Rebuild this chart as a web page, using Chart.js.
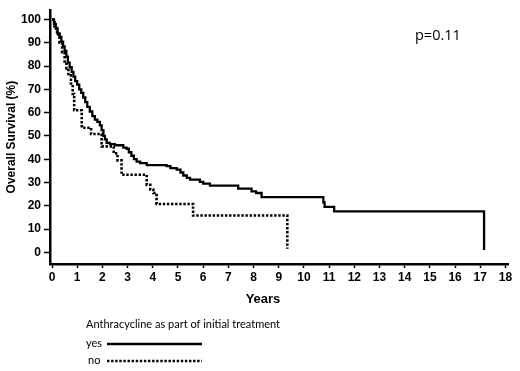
<!DOCTYPE html>
<html>
<head>
<meta charset="utf-8">
<script src="https://cdn.jsdelivr.net/npm/chart.js@4"></script>
<style>
  html, body { margin: 0; padding: 0; background: #fff; }
  #km { display: block; }
</style>
</head>
<body>
<canvas id="km" width="520" height="371"></canvas>
<script>
// Kaplan-Meier steps: time (years) where the curve drops, survival (%) after the drop
const yesTimes = [0, 0.08, 0.15, 0.22, 0.3, 0.37, 0.44, 0.5, 0.57, 0.63, 0.7, 0.78, 0.85, 0.92, 1.0,
  1.08, 1.16, 1.24, 1.32, 1.4, 1.5, 1.6, 1.7, 1.8, 1.9, 1.97, 2.04, 2.1, 2.17, 2.3, 2.5, 2.83, 2.96,
  3.05, 3.15, 3.25, 3.36, 3.5, 3.76, 4.55, 4.7, 4.95, 5.1, 5.21, 5.35, 5.48, 5.87, 6.0, 6.27, 7.39,
  7.92, 8.1, 8.32, 10.77, 10.82, 11.2, 17.15]
const yesSurv = [100, 98, 96, 94, 92.5, 90.5, 88.5, 86.5, 84, 81.5, 79.5, 77.5, 75.5, 73.5, 72,
  70, 68.5, 66.5, 64.5, 62.5, 60.5, 58.5, 57, 56, 54.5, 52.5, 50, 48.5, 47, 46.5, 46, 45, 44.5,
  43, 41.5, 40, 39, 38.3, 37.5, 37, 36.2, 35.5, 34.3, 33, 32, 31.2, 30.3, 29.5, 28.7, 27.4,
  26.2, 25.5, 23.7, 21.5, 19.5, 17.6, 1]

const noTimes = [0, 0.1, 0.2, 0.3, 0.4, 0.5, 0.57, 0.65, 0.75, 0.82, 0.88, 1.18, 1.55, 1.97, 2.45,
  2.6, 2.76, 3.76, 3.9, 4.02, 4.15, 5.6, 9.34]
const noSurv = [100, 97, 93.5, 90, 86, 82, 79, 76, 72.5, 68, 61, 53.5, 50.8, 45.5, 42.5,
  39.5, 33.3, 29, 27, 25.5, 20.8, 15.8, 1.5]

const xTicks = [0, 1, 2, 3, 4, 5, 6, 7, 8, 9, 10, 11, 12, 13, 14, 15, 16, 17, 18]
const yTicks = [0, 10, 20, 30, 40, 50, 60, 70, 80, 90, 100]

const legendTitle = 'Anthracycline as part of initial treatment'
const seriesNames = ['yes', 'no']
const pValueText = 'p=0.11'

const toPoints = (times, surv) => times.map((t, i) => ({ x: t, y: surv[i] }))

const tickFont = { family: 'Liberation Sans, Arial, sans-serif', size: 12, weight: 'bold' }

// draws the p value, the x title and the legend block under the plot
const extrasPlugin = {
  id: 'extras',
  afterDraw(chart) {
    const ctx = chart.ctx
    ctx.save()
    ctx.fillStyle = '#000'
    ctx.textBaseline = 'middle'

    ctx.font = '14.5px "Open Sans", sans-serif'
    ctx.textAlign = 'left'
    ctx.fillText(pValueText, 415, 36)

    ctx.font = 'bold 13px "Liberation Sans", Arial, sans-serif'
    ctx.textAlign = 'center'
    ctx.fillText('Years', 263, 299)

    ctx.font = '11px Lato, sans-serif'
    ctx.textAlign = 'left'
    ctx.fillText(legendTitle, 86, 324)

    const rows = [344, 361]
    chart.data.datasets.forEach((ds, i) => {
      ctx.font = '11px Lato, sans-serif'
      ctx.fillText(seriesNames[i], i === 0 ? 86 : 88, rows[i] - 1)
      ctx.beginPath()
      ctx.lineWidth = ds.borderWidth
      ctx.strokeStyle = ds.borderColor
      ctx.setLineDash(ds.borderDash || [])
      ctx.moveTo(107, rows[i])
      ctx.lineTo(202, rows[i])
      ctx.stroke()
    })
    ctx.restore()
  }
}

const ctx = document.getElementById('km').getContext('2d')
const chart = new Chart(ctx, {
  type: 'line',
  data: {
    datasets: [
      {
        label: seriesNames[0],
        data: toPoints(yesTimes, yesSurv),
        borderColor: '#000',
        borderWidth: 2.3,
        stepped: true,
        pointRadius: 0,
        fill: false
      },
      {
        label: seriesNames[1],
        data: toPoints(noTimes, noSurv),
        borderColor: '#000',
        borderWidth: 2.6,
        borderDash: [2.4, 1.7],
        borderCapStyle: 'butt',
        stepped: true,
        pointRadius: 0,
        fill: false
      }
    ]
  },
  options: {
    responsive: false,
    animation: false,
    layout: { padding: { top: 5, right: 12, left: 0, bottom: 0 } },
    plugins: {
      legend: { display: false },
      tooltip: { enabled: false }
    },
    scales: {
      x: {
        type: 'linear',
        min: -0.08,
        max: 18.1,
        afterBuildTicks: (scale) => { scale.ticks = xTicks.map(v => ({ value: v })) },
        afterFit: (scale) => { scale.height = 107 },
        grid: { display: true, drawOnChartArea: false, drawTicks: true, tickLength: 4, color: '#000', tickWidth: 1.5 },
        border: { display: true, color: '#000', width: 2.5 },
        ticks: { color: '#000', font: tickFont, padding: 2, maxRotation: 0, autoSkip: false }
      },
      y: {
        type: 'linear',
        min: -5,
        max: 104,
        afterBuildTicks: (scale) => { scale.ticks = yTicks.map(v => ({ value: v })) },
        afterFit: (scale) => { scale.width = 50 },
        grid: { display: true, drawOnChartArea: false, drawTicks: true, tickLength: 6, color: '#000', tickWidth: 1.5 },
        border: { display: true, color: '#000', width: 2.5 },
        ticks: { color: '#000', font: tickFont, padding: 3, autoSkip: false },
        title: {
          display: true,
          text: 'Overall Survival (%)',
          color: '#000',
          font: { family: 'Liberation Sans, Arial, sans-serif', size: 12, weight: 'bold' },
          padding: { top: 4, bottom: 0 }
        }
      }
    }
  },
  plugins: [extrasPlugin]
})
</script>
</body>
</html>
